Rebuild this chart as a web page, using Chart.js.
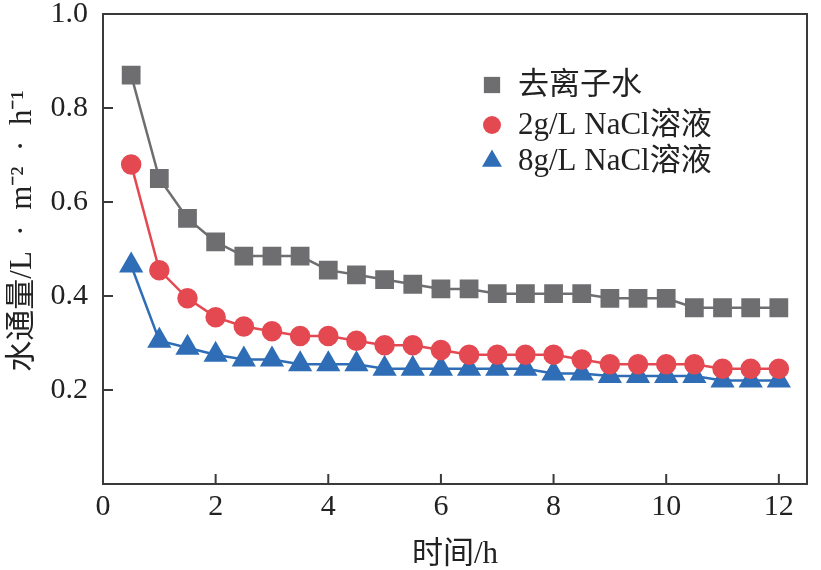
<!DOCTYPE html>
<html>
<head>
<meta charset="utf-8">
<script src="https://cdn.jsdelivr.net/npm/chart.js@4.4.0/dist/chart.umd.min.js"></script>
<style>
  html, body { margin: 0; padding: 0; background: #fff; }
  #wrap { width: 821px; height: 570px; }
</style>
</head>
<body>
<div id="wrap"><canvas id="flux-chart"></canvas></div>
<script>
// time points (h)
var times = [0.5, 1, 1.5, 2, 2.5, 3, 3.5, 4, 4.5, 5, 5.5, 6, 6.5, 7, 7.5, 8, 8.5, 9, 9.5, 10, 10.5, 11, 11.5, 12];

// water flux, L·m-2·h-1
var diWater = [0.87, 0.65, 0.565, 0.515, 0.485, 0.485, 0.485, 0.455, 0.445, 0.435, 0.425, 0.415,
               0.415, 0.405, 0.405, 0.405, 0.405, 0.395, 0.395, 0.395, 0.375, 0.375, 0.375, 0.375];
var nacl2 = [0.68, 0.455, 0.395, 0.355, 0.335, 0.325, 0.315, 0.315, 0.305, 0.295, 0.295, 0.285,
             0.275, 0.275, 0.275, 0.275, 0.265, 0.255, 0.255, 0.255, 0.255, 0.245, 0.245, 0.245];
var nacl8 = [0.465, 0.305, 0.29, 0.275, 0.265, 0.265, 0.255, 0.255, 0.255, 0.245, 0.245, 0.245,
             0.245, 0.245, 0.245, 0.235, 0.235, 0.23, 0.23, 0.23, 0.23, 0.22, 0.22, 0.22];

var seriesLabels = ['去离子水', '2g/L NaCl溶液', '8g/L NaCl溶液'];
var xTicks = [0, 2, 4, 6, 8, 10, 12];
var yTicks = [0.2, 0.4, 0.6, 0.8, 1.0];
var yTitle = '水通量/L  ·  m⁻²  ·  h⁻¹';
var xTitle = '时间/h';

var GRAY = 'rgb(110,110,112)';
var RED = 'rgb(228,73,82)';
var BLUE = 'rgb(47,110,182)';
var FONT = '"Liberation Serif", "Noto Sans CJK SC", serif';

function pts(ys) {
    return times.map(function(t, i){ return { x: t, y: ys[i] }; });
}

// inside tick marks, full frame, rotated y title
var frameTicks = {
    id: 'frameTicks',
    afterDraw: function(chart) {
        var ctx = chart.ctx, a = chart.chartArea;
        var xs = chart.scales.x, ys = chart.scales.y;
        ctx.save();
        ctx.strokeStyle = '#3a3a3a';
        ctx.lineWidth = 2;
        ctx.beginPath();
        xTicks.forEach(function(v){
            var px = xs.getPixelForValue(v);
            ctx.moveTo(px, a.bottom);
            ctx.lineTo(px, a.bottom - 10);
        });
        yTicks.forEach(function(v){
            var py = ys.getPixelForValue(v);
            ctx.moveTo(a.left, py);
            ctx.lineTo(a.left + 10, py);
        });
        ctx.stroke();
        ctx.strokeRect(a.left, a.top, a.right - a.left, a.bottom - a.top);

        ctx.translate(23, 231);
        ctx.rotate(-Math.PI / 2);
        ctx.font = '31px ' + FONT;
        ctx.fillStyle = '#222';
        ctx.textAlign = 'center';
        ctx.textBaseline = 'middle';
        ctx.fillText(yTitle, 0, 0);
        ctx.restore();
    }
};

// legend drawn inside the plot area
var innerLegend = {
    id: 'innerLegend',
    afterDraw: function(chart) {
        var ctx = chart.ctx;
        var rows = [85, 125, 161];
        ctx.save();
        ctx.font = '31px ' + FONT;
        ctx.textBaseline = 'middle';
        chart.data.datasets.forEach(function(ds, i){
            ctx.fillStyle = ds.pointBackgroundColor;
            ctx.strokeStyle = ds.pointBackgroundColor;
            Chart.helpers.drawPoint(ctx, {
                pointStyle: ds.pointStyle,
                radius: ds.pointRadius,
                rotation: 0,
                borderWidth: 0
            }, 492, rows[i]);
            ctx.fillStyle = '#222';
            ctx.fillText(ds.label, 518, rows[i] + 1);
        });
        ctx.restore();
    }
};

var fluxChart = new Chart(document.getElementById('flux-chart'), {
    type: 'line',
    data: {
        datasets: [{
            label: seriesLabels[0],
            data: pts(diWater),
            borderColor: GRAY,
            pointBackgroundColor: GRAY,
            pointBorderColor: GRAY,
            pointStyle: 'rect',
            pointRadius: 11.5,
            borderWidth: 2.5
        },
        {
            label: seriesLabels[1],
            data: pts(nacl2),
            borderColor: RED,
            pointBackgroundColor: RED,
            pointBorderColor: RED,
            pointStyle: 'circle',
            pointRadius: 9,
            borderWidth: 2.5
        },
        {
            label: seriesLabels[2],
            data: pts(nacl8),
            borderColor: BLUE,
            pointBackgroundColor: BLUE,
            pointBorderColor: BLUE,
            pointStyle: 'triangle',
            pointRadius: 11.5,
            borderWidth: 2.5
        }]
    },
    options: {
        responsive: true,
        maintainAspectRatio: false,
        animation: false,
        layout: { padding: { top: 14, right: 10, left: 0, bottom: 0 } },
        plugins: {
            legend: { display: false },
            tooltip: { enabled: false }
        },
        elements: { line: { tension: 0 }, point: { borderWidth: 0 } },
        scales: {
            x: {
                type: 'linear',
                min: 0,
                max: 12.5,
                grid: { display: false },
                border: { display: false },
                ticks: {
                    stepSize: 2,
                    includeBounds: false,
                    color: '#222',
                    padding: 2,
                    font: { family: FONT, size: 30, lineHeight: 0.9 },
                    maxRotation: 0
                },
                title: {
                    display: true,
                    text: xTitle,
                    color: '#222',
                    font: { family: FONT, size: 31, lineHeight: 1.0 },
                    padding: { top: 0, bottom: 0 }
                },
                afterFit: function(s){ s.height = 86; s.paddingLeft = 0; s.paddingRight = 0; }
            },
            y: {
                min: 0,
                max: 1.0,
                grid: { display: false },
                border: { display: false },
                ticks: {
                    stepSize: 0.2,
                    color: '#222',
                    padding: 7,
                    font: { family: FONT, size: 30 },
                    callback: function(v){ return v === 0 ? '' : v.toFixed(1); }
                },
                title: { display: false },
                afterFit: function(s){ s.width = 103; s.paddingTop = 0; s.paddingBottom = 0; }
            }
        }
    },
    plugins: [frameTicks, innerLegend]
});
</script>
</body>
</html>
